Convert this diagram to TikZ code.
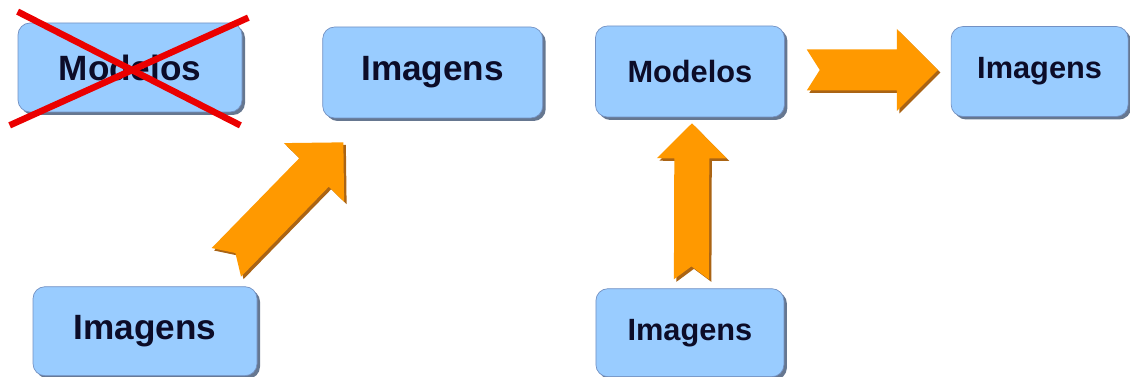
\documentclass[tikz,border=0pt]{standalone}
\usepackage{fontspec}
\setmainfont{Liberation Sans}
\usetikzlibrary{positioning, calc, shadows}

\definecolor{boxblue}{RGB}{153,204,255}
\definecolor{boxedge}{RGB}{115,145,195}
\definecolor{boxshade}{RGB}{75,95,125}
\definecolor{arroworange}{RGB}{255,153,0}
\definecolor{arrowshade}{RGB}{170,100,20}
\definecolor{crossred}{RGB}{235,0,0}
\definecolor{labeltext}{RGB}{12,12,40}

% block arrow: tail #1 (notched), tip #2, half shaft width #3, half head width #4
\newcommand{\fatarrow}[4]{%
  \foreach \off/\col in {0.05/arrowshade, 0/arroworange} {
    \path ($(#1)+(\off,-\off)$) coordinate (tl) ($(#2)+(\off,-\off)$) coordinate (tp);
    \path ($(tp)!#4!(tl)$) coordinate (hb);
    \fill[\col] ($(tl)!#3!90:(tp)$) -- ($(hb)!#3!90:(tp)$)
      -- ($(hb)!#4!90:(tp)$) -- (tp)
      -- ($(hb)!#4!-90:(tp)$) -- ($(hb)!#3!-90:(tp)$)
      -- ($(tl)!#3!-90:(tp)$) -- ($(tl)!0.26cm!(tp)$) -- cycle;
  }}

\begin{document}
\begin{tikzpicture}
        \useasboundingbox (0,0) rectangle (22.6,-7.54);

        \tikzstyle{every node}=[rectangle, rounded corners=0.24cm, draw=boxedge, fill=boxblue,
          drop shadow={shadow xshift=0.06cm, shadow yshift=-0.06cm, fill=boxshade, opacity=0.85},
          text=labeltext, font=\bfseries\fontsize{20}{24}\selectfont,
          minimum width=4.48cm, minimum height=1.78cm, inner sep=0pt]

        % Left nodes
        \node (modA) at (2.60,-1.35) {Modelos};
        \node (imgB) [right=1.6cm of modA, yshift=-0.1cm, minimum width=4.4cm, minimum height=1.82cm] {Imagens};
        \node (imgC) [below=3.48cm of modA, xshift=0.3cm] {Imagens};

        \tikzstyle{every node}+=[font=\bfseries\fontsize{17.5}{21}\selectfont,
          minimum width=3.78cm, minimum height=1.82cm]

        % Right nodes
        \node (modD) [right=1.04cm of imgB, yshift=0.02cm] {Modelos};
        \node (imgE) [right=3.32cm of modD, minimum width=3.54cm, minimum height=1.8cm] {Imagens};
        \node (imgF) [below=3.42cm of modD, minimum width=3.76cm, minimum height=1.76cm] {Imagens};

        \tikzstyle{every node}=[]

        % cross out the first box
        \draw[crossred, line width=0.13cm] ($(modA.north west)+(0,0.22)$) -- ($(modA.south east)+(-0.04,-0.26)$);
        \draw[crossred, line width=0.13cm] ($(modA.north east)+(0.12,0.1)$) -- ($(modA.south west)+(-0.16,-0.26)$);

        % Arrows
        \coordinate (dgTail) at ($(imgC.north east)+(-0.62,0.48)$);
        \coordinate (dgTip) at ($(imgB.south west)+(0.42,-0.48)$);
        \coordinate (upTail) at ($(imgF.north)+(0.03,0.18)$);
        \coordinate (upTip) at ($(modD.south)+(0.04,-0.12)$);
        \coordinate (rtTail) at ($(modD.east)+(0.44,0.03)$);
        \coordinate (rtTip) at ($(imgE.west)+(-0.26,0.03)$);

        \fatarrow{dgTail}{dgTip}{0.41cm}{0.84cm}
        \fatarrow{upTail}{upTip}{0.35cm}{0.7cm}
        \fatarrow{rtTail}{rtTip}{0.41cm}{0.82cm}

\end{tikzpicture}
\end{document}
